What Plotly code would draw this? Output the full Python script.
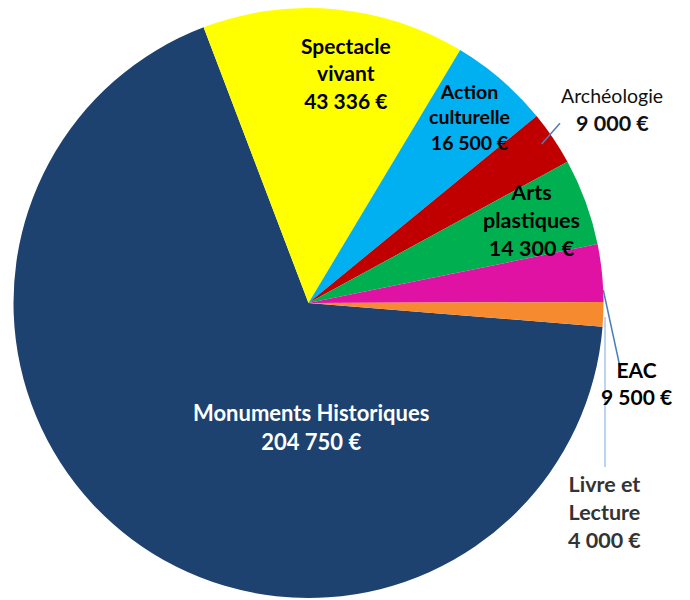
import plotly.graph_objects as go

W, H = 690, 600
OFF = 8  # default page body margin

labels = ["Monuments Historiques", "Spectacle vivant", "Action culturelle",
          "Archéologie", "Arts plastiques", "EAC", "Livre et Lecture"]
values = [204750, 43336, 16500, 9000, 14300, 9500, 4000]
colors = ["#1D4270", "#FFFF00", "#00B0F0", "#C00000", "#00B050", "#DF12A3", "#F58A2E"]

label_lines = {
    "Monuments Historiques": ["Monuments Historiques"],
    "Spectacle vivant": ["Spectacle", "vivant"],
    "Action culturelle": ["Action", "culturelle"],
    "Archéologie": ["Archéologie"],
    "Arts plastiques": ["Arts", "plastiques"],
    "EAC": ["EAC"],
    "Livre et Lecture": ["Livre et", "Lecture"],
}


def fmt(v):
    return f"{v:,}".replace(",", " ") + " €"


def px(x, y):
    return (x - OFF) / W, 1 - (y - OFF) / H


fig = go.Figure(go.Pie(
    labels=labels, values=values, sort=False, direction="clockwise",
    rotation=94.6, marker=dict(colors=colors, line=dict(width=0)),
    textinfo="none", hoverinfo="label+value", showlegend=False,
    domain=dict(x=[px(12, 0)[0], px(605, 0)[0]], y=[px(0, 598)[1], 1.0]),
))

FONT = "Lato, 'Open Sans', sans-serif"
style = {
    "Monuments Historiques": (311, 427, 22, "#FFFFFF"),
    "Spectacle vivant": (346, 73, 21, "#000000"),
    "Action culturelle": (469, 117, 19.5, "#000000"),
    "Arts plastiques": (531, 220, 21.5, "#000000"),
    "EAC": (636, 383, 21, "#000000"),
    "Livre et Lecture": (604, 512, 21.5, "#333333"),
}

ann = []
for lab, val in zip(labels, values):
    if lab == "Archéologie":
        x, y = px(612, 95)
        ann.append(dict(x=x, y=y, xref="paper", yref="paper", showarrow=False,
                        text=label_lines[lab][0], xanchor="center", yanchor="middle",
                        font=dict(family=FONT, size=19.5, color="#111111")))
        x, y = px(612, 123)
        ann.append(dict(x=x, y=y, xref="paper", yref="paper", showarrow=False,
                        text="<b>" + fmt(val) + "</b>", xanchor="center", yanchor="middle",
                        font=dict(family=FONT, size=21.5, color="#111111")))
        continue
    cx, cy, sz, col = style[lab]
    x, y = px(cx, cy)
    txt = "<br>".join(label_lines[lab] + [fmt(val)])
    ann.append(dict(x=x, y=y, xref="paper", yref="paper", showarrow=False,
                    text="<b>" + txt + "</b>", xanchor="center", yanchor="middle",
                    font=dict(family=FONT, size=sz, color=col)))

shapes = []
for (x0, y0, x1, y1, c) in [(541.7, 144, 560, 123.3, "#4A7EBB"),
                            (603.3, 290, 620, 367, "#4A7EBB"),
                            (605, 317, 605, 467, "#A9C4EB")]:
    a0, b0 = px(x0, y0)
    a1, b1 = px(x1, y1)
    shapes.append(dict(type="line", xref="paper", yref="paper", x0=a0, y0=b0,
                       x1=a1, y1=b1, line=dict(color=c, width=1.5)))

fig.update_layout(width=W, height=H, margin=dict(l=0, r=0, t=0, b=0),
                  paper_bgcolor="white", plot_bgcolor="white",
                  annotations=ann, shapes=shapes)
fig.write_html("out.html")
